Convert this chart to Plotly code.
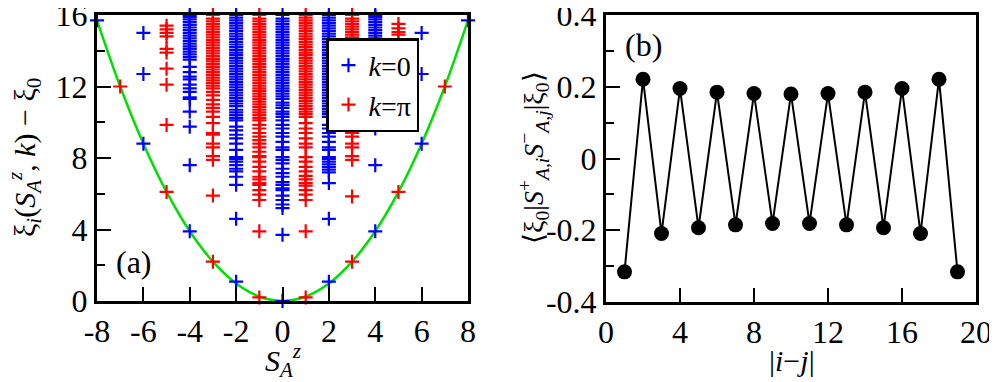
import plotly.graph_objects as go

# entanglement spectrum levels per S_A^z sector
blue_m8 = [15.7]
red_m7 = [12.0]
blue_m6 = [8.8, 12.7, 15.0]
red_m5 = [6.1, 9.85, 12.1, 13.0, 13.9, 14.1, 14.8, 15.0, 15.2, 15.4]
blue_m4 = [3.9, 7.6, 9.75, 10.6, 11.3, 11.4, 11.7, 11.9, 12.1, 12.4, 12.55, 12.8, 13.1, 13.5,
           13.65, 13.8, 13.95, 14.1, 14.25, 14.4, 14.55, 14.7, 14.85, 15.0, 15.15, 15.3, 15.45,
           15.6, 15.75, 15.9, 16.0]
red_m3 = [2.2, 5.9, 7.9, 8.1, 8.6, 8.8, 9.3, 9.4, 9.95, 10.3, 10.6, 10.8, 11.0, 11.25, 11.5, 11.7,
          11.9, 12.05, 12.2, 12.35, 12.5, 12.65, 12.8, 12.95, 13.1, 13.25, 13.4, 13.55, 13.7, 13.85,
          14.0, 14.15, 14.3, 14.45, 14.6, 14.75, 14.9, 15.05, 15.2, 15.35, 15.5, 15.65, 15.8, 16.0]
blue_m2 = [1.08, 4.6, 6.5, 6.95, 7.25, 7.4, 7.6, 7.8, 7.95, 8.05, 8.45, 8.8, 9.1, 9.3, 9.55, 9.75,
           10.1, 10.25, 10.4, 10.55, 10.7, 10.9, 11.05, 11.2, 11.35, 11.5, 11.65, 11.8, 11.95, 12.1,
           12.25, 12.4, 12.55, 12.7, 12.85, 13.0, 13.15, 13.3, 13.45, 13.6, 13.75, 13.9, 14.05,
           14.2, 14.35, 14.5, 14.65, 14.8, 14.95, 15.1, 15.25, 15.4, 15.55, 15.7, 15.85, 16.0]
red_m1 = [0.2, 3.9, 5.65, 5.95, 6.2, 6.5, 6.6, 6.8, 6.95, 7.25, 7.5, 7.8, 8.05, 8.1, 8.35, 8.6,
          8.8, 9.0, 9.2, 9.4, 9.65, 9.85, 10.1, 10.25, 10.4, 10.55, 10.7, 10.85, 11.0, 11.15, 11.3,
          11.45, 11.6, 11.75, 11.9, 12.05, 12.2, 12.35, 12.5, 12.65, 12.8, 12.95, 13.1, 13.25,
          13.4, 13.55, 13.7, 13.85, 14.0, 14.15, 14.3, 14.45, 14.6, 14.75, 14.9, 15.05, 15.2,
          15.35, 15.5, 15.65, 15.8, 16.0]
blue_0 = [0.0, 3.7, 5.2, 5.4, 5.65, 5.9, 6.2, 6.3, 6.5, 6.65, 6.95, 7.15, 7.4, 7.7, 7.9, 8.05,
          8.45, 8.6, 8.9, 9.2, 9.4, 9.65, 9.85, 10.1, 10.3, 10.45, 10.6, 10.8, 10.95, 11.1, 11.3,
          11.45, 11.6, 11.75, 11.9, 12.05, 12.2, 12.35, 12.5, 12.65, 12.8, 12.95, 13.1, 13.25,
          13.4, 13.55, 13.7, 13.85, 14.0, 14.15, 14.3, 14.45, 14.6, 14.75, 14.9, 15.05, 15.2,
          15.35, 15.5, 15.65, 15.8, 16.0]
red_1 = [0.2, 3.9, 5.65, 5.95, 6.2, 6.45, 6.6, 6.8, 7.0, 7.25, 7.5, 7.8, 8.05, 8.6, 8.8, 9.1, 9.4,
         9.65, 9.95, 10.3, 10.45, 10.6, 10.75, 10.9, 11.05, 11.2, 11.35, 11.5, 11.65, 11.8, 11.95,
         12.1, 12.25, 12.4, 12.55, 12.7, 12.85, 13.0, 13.15, 13.3, 13.45, 13.6, 13.75, 13.9,
         14.05, 14.2, 14.35, 14.5, 14.65, 14.8, 14.95, 15.1, 15.25, 15.4, 15.55, 15.7, 15.85, 16.0]
blue_2 = [1.08, 4.6, 6.6, 7.2, 7.35, 7.5, 7.65, 7.8, 7.95, 8.05, 8.45, 8.6, 8.9, 9.2, 9.4, 9.65,
          9.85, 10.3, 10.45, 10.6, 10.75, 10.9, 11.05, 11.2, 11.35, 11.5, 11.65, 11.8, 11.95,
          12.1, 12.25, 12.4, 12.55, 12.7, 12.85, 13.0, 13.15, 13.3, 13.45, 13.6, 13.75, 13.9,
          14.05, 14.2, 14.35, 14.5, 14.65, 14.8, 14.95, 15.1, 15.25, 15.4, 15.55, 15.7, 15.85, 16.0]
red_3 = [2.2, 5.85, 7.9, 8.1, 8.6, 8.8, 9.2, 9.4, 9.65, 9.95, 10.3, 10.6, 10.8, 11.0, 11.25, 11.5,
         11.7, 11.9, 12.05, 12.2, 12.35, 12.5, 12.65, 12.8, 12.95, 13.1, 13.25, 13.4, 13.55,
         13.7, 13.85, 14.0, 14.15, 14.3, 14.45, 14.6, 14.75, 14.9, 15.05, 15.2, 15.35, 15.5,
         15.65, 15.8, 16.0]
blue_4 = [3.9, 7.6, 9.65, 9.85, 10.2, 10.5, 10.7, 11.3, 11.7, 12.1, 12.5, 12.8, 13.1, 13.5,
          13.65, 13.8, 13.95, 14.1, 14.25, 14.4, 14.55, 14.7, 14.85, 15.0, 15.15, 15.3, 15.45,
          15.6, 15.75, 15.9, 16.0]
red_5 = [6.1, 9.85, 12.1, 13.0, 13.9, 14.1, 14.9, 15.05, 15.25, 15.5]
blue_6 = [8.8, 12.7, 15.0]
red_7 = [12.0]
blue_8 = [15.7]

blue_cols = {-8: blue_m8, -6: blue_m6, -4: blue_m4, -2: blue_m2, 0: blue_0,
             2: blue_2, 4: blue_4, 6: blue_6, 8: blue_8}
red_cols = {-7: red_m7, -5: red_m5, -3: red_m3, -1: red_m1,
            1: red_1, 3: red_3, 5: red_5, 7: red_7}

# lowest level in each sector (green guide curve)
curve_s = [-8, -7, -6, -5, -4, -3, -2, -1, 0, 1, 2, 3, 4, 5, 6, 7, 8]
curve_xi = [15.7, 12.0, 8.8, 6.1, 3.9, 2.2, 0.98, 0.25, 0.0, 0.25, 0.98, 2.2, 3.9, 6.1, 8.8, 12.0, 15.7]

# correlation function, panel (b)
dist = [1, 2, 3, 4, 5, 6, 7, 8, 9, 10, 11, 12, 13, 14, 15, 16, 17, 18, 19]
corr = [-0.316, 0.221, -0.209, 0.195, -0.193, 0.185, -0.185, 0.181, -0.181, 0.180,
        -0.181, 0.181, -0.185, 0.185, -0.193, 0.195, -0.209, 0.221, -0.316]

# the page body has an 8px margin, so the figure is shifted by that much
OFF = 8
W, H = 997 - OFF, 382 - OFF
FONT = "Liberation Serif"


def px(x, y):
    return (x - OFF) / W, 1 - (y - OFF) / H


def flat(cols):
    xs, ys = [], []
    for s, lev in cols.items():
        xs += [s] * len(lev)
        ys += lev
    return xs, ys


fig = go.Figure()

fig.add_trace(go.Scatter(x=curve_s, y=curve_xi, mode="lines",
                         line=dict(color="#00e000", width=2.5, shape="spline", smoothing=1.0),
                         showlegend=False, xaxis="x", yaxis="y"))

bx, by = flat(blue_cols)
rx, ry = flat(red_cols)
fig.add_trace(go.Scatter(x=bx, y=by, mode="markers", name="<i>k</i>=0",
                         marker=dict(symbol="cross-thin", size=10, color="#0000ff",
                                     line=dict(color="#0000ff", width=2.2)),
                         cliponaxis=False, xaxis="x", yaxis="y"))
fig.add_trace(go.Scatter(x=rx, y=ry, mode="markers", name="<i>k</i>=π",
                         marker=dict(symbol="cross-thin", size=10, color="#ff0000",
                                     line=dict(color="#ff0000", width=2.2)),
                         cliponaxis=False, xaxis="x", yaxis="y"))

fig.add_trace(go.Scatter(x=dist, y=corr, mode="lines+markers",
                         line=dict(color="black", width=2),
                         marker=dict(symbol="circle", size=15, color="black"),
                         showlegend=False, cliponaxis=False, xaxis="x2", yaxis="y2"))

fig.update_layout(
    width=W, height=H,
    margin=dict(l=0, r=0, t=0, b=0, autoexpand=False),
    paper_bgcolor="white", plot_bgcolor="white",
    font=dict(family=FONT, color="black"),
    xaxis=dict(domain=[px(97, 0)[0], px(468, 0)[0]], range=[-8, 8], anchor="y",
               tickmode="array", tickvals=[-8, -6, -4, -2, 0, 2, 4, 6, 8],
               ticktext=["-8", "-6", "-4", "-2", "0", "2", "4", "6", "8"]),
    yaxis=dict(domain=[px(0, 301)[1], px(0, 15)[1]], range=[0, 16], anchor="x",
               tickmode="array", tickvals=[0, 4, 8, 12, 16], ticktext=["0", "4", "8", "12", "16"],
               minor=dict(tickmode="array", tickvals=[2, 6, 10, 14], ticks="inside",
                          ticklen=8, tickwidth=2, tickcolor="#000000")),
    xaxis2=dict(domain=[px(606, 0)[0], px(976, 0)[0]], range=[0, 20], anchor="y2",
                tickmode="array", tickvals=[0, 4, 8, 12, 16, 20],
                ticktext=["0", "4", "8", "12", "16", "20"]),
    yaxis2=dict(domain=[px(0, 302)[1], px(0, 15)[1]], range=[-0.4, 0.4], anchor="x2",
                tickmode="array", tickvals=[-0.4, -0.2, 0, 0.2, 0.4],
                ticktext=["-0.4", "-0.2", "0", "0.2", "0.4"],
                minor=dict(tickmode="array", tickvals=[-0.3, -0.1, 0.1, 0.3], ticks="inside",
                           ticklen=8, tickwidth=2, tickcolor="#000000")),
    legend=dict(x=px(326, 38)[0], y=px(326, 38)[1], xanchor="left", yanchor="top",
                bgcolor="white", bordercolor="black", borderwidth=2.5,
                font=dict(family=FONT, size=28, color="black"),
                itemwidth=30, tracegroupgap=0),
)

style = dict(showgrid=False, zeroline=False, showline=True, linecolor="#000000",
             linewidth=3, mirror=True, ticks="inside", ticklen=14, tickwidth=2,
             tickcolor="#000000", automargin=False, ticklabeloverflow="allow",
             tickfont=dict(family=FONT, size=32, color="black"))
fig.update_xaxes(**style)
fig.update_yaxes(**style)


def note(text, x, y, size=32, angle=0):
    ax, ay = px(x, y)
    fig.add_annotation(text=text, x=ax, y=ay, xref="paper", yref="paper",
                       xanchor="center", yanchor="middle",
                       showarrow=False, textangle=angle,
                       font=dict(family=FONT, size=size, color="black"))


note("ξ<sub><i>i</i></sub>(<i>S</i><sub><i>A</i></sub><sup><i>z</i></sup>, <i>k</i>) − ξ<sub>0</sub>",
     24, 158, size=30, angle=-90)
note("⟨ξ<sub>0</sub>|<i>S</i><sup>+</sup><sub><i>A,i</i></sub><i>S</i><sup>−</sup><sub><i>A,j</i></sub>|ξ<sub>0</sub>⟩",
     533, 158, size=28, angle=-90)
note("<i>S</i><sub><i>A</i></sub><sup><i>z</i></sup>", 283, 360, size=30)
note("|<i>i</i>−<i>j</i>|", 792, 360, size=30)
note("(a)", 134, 262)
note("(b)", 643, 45)

fig.write_html("out.html")
